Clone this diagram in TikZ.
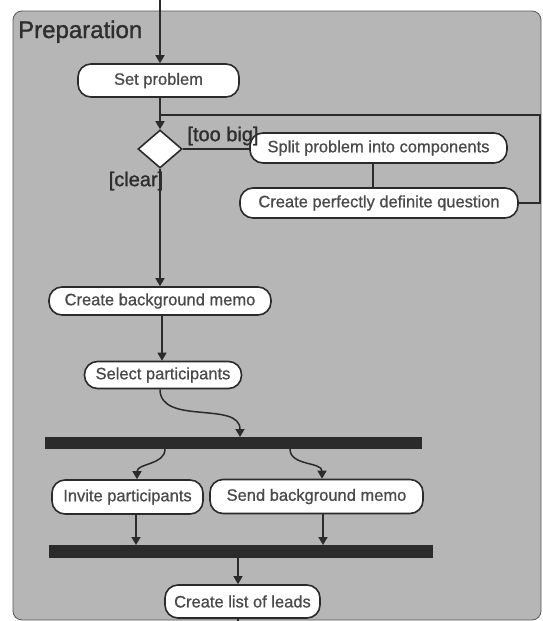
\documentclass[tikz,border=0pt]{standalone}
\usepackage{fontspec}
\setmainfont{Liberation Sans}
\newfontfamily\heavyfont[FakeBold=0.8]{Liberation Sans}
\newfontfamily\labelfont[FakeBold=1.2]{Liberation Sans}
\usetikzlibrary{arrows.meta,shapes.geometric}
\definecolor{bggray}{HTML}{B6B6B6}
\definecolor{linecol}{HTML}{2B2B2B}
\definecolor{txtcol}{HTML}{4A4A4A}
\definecolor{lblcol}{HTML}{2E2E2E}
\tikzset{
  actbox/.style={draw=linecol, line width=1.6pt, fill=white, rounded corners=13pt,
    inner sep=0pt, text=txtcol, font=\heavyfont\fontsize{16.5}{18}\selectfont},
  forkbar/.style={fill=linecol, draw=none, inner sep=0pt},
  decis/.style={draw=linecol, line width=1.6pt, fill=white, diamond, inner sep=0pt,
    minimum width=44pt, minimum height=38pt},
  conn/.style={draw=linecol, line width=1.5pt},
  arr/.style={conn, -{Triangle[length=8pt,width=9pt]}},
  guard/.style={text=lblcol, font=\labelfont\fontsize{20}{22}\selectfont, inner sep=0pt}
}
\begin{document}
\begin{tikzpicture}[x=1pt,y=-1pt]
\useasboundingbox (0,0) rectangle (542,621);
\fill[white] (0,0) rectangle (542,621);
\draw[fill=bggray, draw=gray!70!black, line width=0.8pt, rounded corners=9pt] (13,11) rectangle (541,620);

\node[anchor=base west, text=lblcol, font=\labelfont\fontsize{24}{26}\selectfont, inner sep=0pt] (title) at (18,38) {Preparation};

% nodes
\node[actbox, minimum width=161pt, minimum height=33pt] (set) at (158.5,80.5) {Set problem};
\node[decis] (dec) at (160,149) {};
\node[actbox, minimum width=257pt, minimum height=30pt] (split) at (378.5,148) {Split problem into components};
\node[actbox, minimum width=278pt, minimum height=30pt] (quest) at (379,203) {Create perfectly definite question};
\node[actbox, minimum width=222pt, minimum height=28pt] (memo) at (160,301) {Create background memo};
\node[actbox, minimum width=157pt, minimum height=27pt] (sel) at (163,375) {Select participants};
\node[forkbar, minimum width=377pt, minimum height=12pt] (bar1) at (233.5,443) {};
\node[actbox, minimum width=151pt, minimum height=34pt] (inv) at (127.5,497) {Invite participants};
\node[actbox, minimum width=213pt, minimum height=34pt] (send) at (316.5,496.5) {Send background memo};
\node[forkbar, minimum width=384pt, minimum height=13pt] (bar2) at (241,551.5) {};
\node[actbox, minimum width=155pt, minimum height=33pt] (leads) at (242.5,601.5) {Create list of leads};

% coordinates
\coordinate (start) at (160,0);
\coordinate (join) at (160,115);
\coordinate (loopA) at (540,203);
\coordinate (loopB) at (540,115);
\coordinate (b1in) at (240,437);
\coordinate (b1outL) at (165,449);
\coordinate (b1outR) at (290,449);
\coordinate (b2inL) at (136,545);
\coordinate (b2inR) at (323,545);
\coordinate (b2out) at (238,558);
\coordinate (endc) at (238,625);

% connectors
\draw[arr] (start) -- (set.north -| start);
\draw[conn] (quest.east) -- (loopA) -- (loopB) -- (join);
\draw[arr] (set.south -| start) -- (dec.north);
\draw[conn] (dec.east) -- (split.west |- dec.east);
\draw[conn] (split.south -| 373,0) -- (quest.north -| 373,0);
\draw[arr] (dec.south) -- (memo.north -| dec.south);
\draw[arr] (memo.south -| 162,0) -- (sel.north -| 162,0);
\draw[arr] (sel.south -| 160,0) to[out=-90,in=90] (b1in);
\draw[arr] (b1outL) to[out=-90,in=90] (inv.north -| 137,0);
\draw[arr] (b1outR) to[out=-90,in=90] (send.north -| 322,0);
\draw[arr] (inv.south -| b2inL) -- (b2inL);
\draw[arr] (send.south -| b2inR) -- (b2inR);
\draw[arr] (b2out) -- (leads.north -| b2out);
\draw[conn] (leads.south -| endc) -- (endc);

% guards
\node[guard] (big) at (223,136) {[too big]};
\node[guard] (clr) at (136,181) {[clear]};
\end{tikzpicture}
\end{document}
